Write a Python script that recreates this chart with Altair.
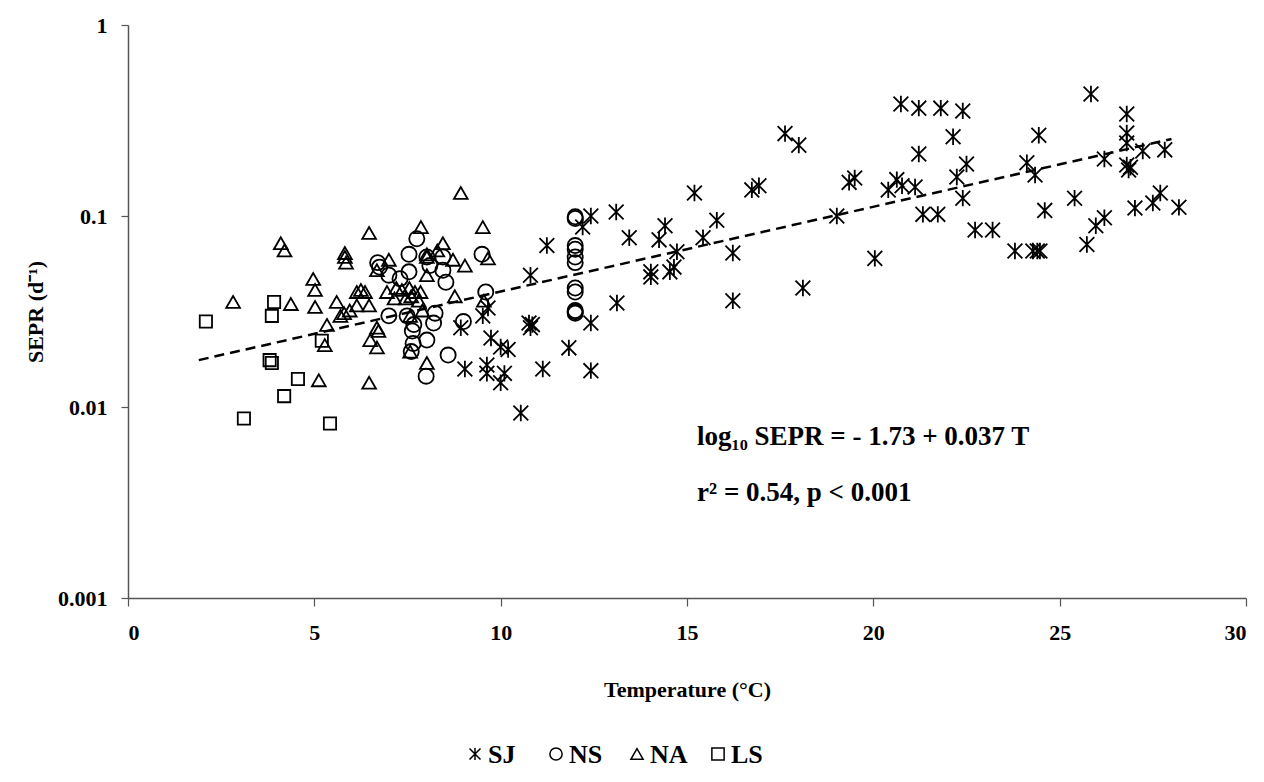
import altair as alt
import pandas as pd

# ---------------- data ----------------
sites = ["SJ", "NS", "NA", "LS"]

sj_t = [12.42, 12.2, 13.1, 13.45, 11.24, 10.8, 9.66, 9.52, 8.93, 10.76, 10.8, 10.85, 12.42,
        9.74, 10.0, 10.2, 11.83, 9.04, 9.63, 9.63, 10.1, 10.0, 11.13, 12.42, 10.54,
        18.0, 14.41, 14.25, 15.2, 15.8, 15.43, 14.73, 14.03, 14.03, 14.54, 14.65, 16.23,
        13.12, 16.23, 18.11, 16.74, 16.93, 19.02, 19.35, 19.5, 20.04, 20.4, 20.63, 17.63,
        25.84, 20.74, 21.22, 21.81, 22.4, 26.8, 22.14, 24.44, 26.8, 21.22, 26.8, 27.23,
        27.82, 26.2, 22.5, 24.12, 26.8, 26.9, 26.85, 24.34, 22.24, 20.77, 21.12, 22.4,
        21.33, 21.73, 22.73, 23.2, 23.8, 24.28, 24.4, 24.47, 24.6, 25.4, 25.73, 25.97,
        26.2, 27.02, 27.5, 27.7, 28.2]
sj_v = [0.1, 0.0875, 0.105, 0.077, 0.070, 0.049, 0.033, 0.030, 0.026, 0.0275, 0.026, 0.027, 0.0275,
        0.023, 0.0206, 0.020, 0.0204, 0.0158, 0.0166, 0.015, 0.015, 0.0134, 0.0158, 0.0155, 0.0093,
        0.235, 0.089, 0.075, 0.132, 0.095, 0.077, 0.065, 0.051, 0.048, 0.051, 0.054, 0.064,
        0.035, 0.036, 0.042, 0.137, 0.144, 0.1, 0.15, 0.158, 0.06, 0.137, 0.155, 0.27,
        0.435, 0.386, 0.367, 0.367, 0.355, 0.342, 0.26, 0.265, 0.272, 0.211, 0.241, 0.219,
        0.222, 0.199, 0.187, 0.19, 0.185, 0.18, 0.174, 0.164, 0.16, 0.144, 0.142, 0.124,
        0.102, 0.102, 0.0845, 0.0845, 0.0656, 0.0656, 0.0656, 0.0656, 0.107, 0.124, 0.071, 0.089,
        0.098, 0.11, 0.117, 0.132, 0.111]

ns_t = [7.75, 7.54, 6.7, 7.0, 7.54, 8.02, 8.45, 8.45, 8.53, 9.5, 9.6, 7.0, 7.49, 8.24, 8.2,
        7.67, 7.63, 8.02, 7.65, 7.6, 9.0, 8.59, 8.0, 6.75, 7.3, 8.1,
        12.0, 12.0, 12.0, 12.0, 12.0, 12.0, 12.0, 12.0, 12.0, 12.0, 12.0]
ns_v = [0.076, 0.063, 0.057, 0.049, 0.051, 0.061, 0.061, 0.052, 0.045, 0.063, 0.040, 0.030, 0.030, 0.031, 0.0275,
        0.027, 0.025, 0.0224, 0.0215, 0.0195, 0.028, 0.0187, 0.0145, 0.054, 0.047, 0.055,
        0.099, 0.097, 0.070, 0.067, 0.061, 0.057, 0.042, 0.040, 0.032, 0.031, 0.0315]

na_t = [2.82, 4.1, 4.2, 4.37, 4.97, 5.02, 5.02, 5.6, 5.34, 5.28, 5.12, 6.47, 5.82, 5.82, 5.85,
        5.7, 5.8, 5.95, 6.14, 6.25, 6.36, 6.14, 6.47, 6.47, 6.68, 6.72, 6.5, 6.68,
        8.93, 7.86, 9.52, 8.45, 8.02, 8.02, 8.72, 9.04, 9.66, 6.68, 7.0, 8.3, 8.02, 8.77,
        9.55, 7.9, 7.57, 8.02,
        6.95, 7.2, 7.35, 7.55, 7.7, 7.85, 7.15, 7.45, 7.6, 7.8, 7.57]
na_v = [0.0355, 0.072, 0.066, 0.0346, 0.0468, 0.041, 0.0334, 0.0355, 0.0269, 0.0211, 0.0138, 0.0815, 0.064, 0.061, 0.057,
        0.030, 0.031, 0.032, 0.040, 0.041, 0.040, 0.034, 0.034, 0.0134, 0.026, 0.025, 0.0224, 0.0205,
        0.132, 0.0875, 0.0875, 0.072, 0.063, 0.061, 0.059, 0.055, 0.060, 0.052, 0.059, 0.066, 0.049, 0.038,
        0.036, 0.032, 0.0195, 0.017,
        0.040, 0.042, 0.041, 0.042, 0.040, 0.040, 0.037, 0.037, 0.038, 0.036, 0.030]

ls_t = [2.09, 3.92, 3.86, 5.2, 3.8, 3.86, 4.56, 4.19, 3.11, 5.42]
ls_v = [0.028, 0.0355, 0.030, 0.0222, 0.0176, 0.017, 0.014, 0.0114, 0.0087, 0.0082]

# fitted line as drawn (end points)
fit_t = [1.9, 28.0]
fit_v = [0.0176, 0.253]

# annotation
ann_t = [15.27, 15.27]
ann_v = [0.0063, 0.00322]
ann_text = ["log\u2081\u2080 SEPR = - 1.73 + 0.037 T", "r\u00b2 = 0.54, p < 0.001"]

x_ticks = [0, 5, 10, 15, 20, 25, 30]
y_ticks = [0.001, 0.01, 0.1, 1]

# ---------------- build frames ----------------
rows = []
for name, ts, vs in [("SJ", sj_t, sj_v), ("NS", ns_t, ns_v), ("NA", na_t, na_v), ("LS", ls_t, ls_v)]:
    for t, v in zip(ts, vs):
        rows.append({"T": t, "SEPR": v, "Site": name, "Grp": name})
df = pd.DataFrame(rows)
df_fit = pd.DataFrame({"T": fit_t, "SEPR": fit_v})
df_ann = pd.DataFrame({"T": ann_t, "SEPR": ann_v, "label": ann_text})
df_leg = pd.DataFrame({"Site": sites})

FONT = "Liberation Serif"
star = "M0,-1L0,1M-0.9,-0.9L0.9,0.9M-0.9,0.9L0.9,-0.9"
shape_scale = alt.Scale(domain=sites, range=[star, "circle", "triangle-up", "square"])

xenc = alt.X("T:Q", scale=alt.Scale(domain=[0, 30], nice=False),
             axis=alt.Axis(values=x_ticks, title="Temperature (\u00b0C)", grid=False,
                           tickSize=8, labelPadding=16, titlePadding=36, format="d"))
yenc = alt.Y("SEPR:Q", scale=alt.Scale(type="log", domain=[0.001, 1], nice=False),
             axis=alt.Axis(values=y_ticks, title="SEPR (d\u207b\u00b9)", grid=False,
                           tickSize=7, labelPadding=14, titlePadding=10, format="~g"))

points = alt.Chart(df).mark_point(filled=False, strokeWidth=1.8, color="black", opacity=1).encode(
    x=xenc,
    y=yenc,
    shape=alt.Shape("Site:N", scale=shape_scale, legend=None),
    size=alt.Size("Grp:N", scale=alt.Scale(domain=sites, range=[270, 150, 170, 210]), legend=None),
)

fit = alt.Chart(df_fit).mark_line(color="black", strokeWidth=2.5, strokeDash=[10, 6]).encode(
    x="T:Q", y="SEPR:Q")

ann = alt.Chart(df_ann).mark_text(align="left", baseline="alphabetic", font=FONT, fontWeight="bold",
                                  fontSize=27, color="black").encode(
    x="T:Q", y="SEPR:Q", text="label:N")

main = alt.layer(fit, points, ann)

# legend row below the axis title
leg_x = alt.X("Site:N", scale=alt.Scale(type="point", domain=sites, range=[347, 590], padding=0), axis=None)
leg_pts = alt.Chart(df_leg).mark_point(filled=False, color="black", strokeWidth=1.5, size=150, opacity=1).encode(
    x=leg_x, y=alt.value(729),
    shape=alt.Shape("Site:N", scale=shape_scale, legend=None))
leg_txt = alt.Chart(df_leg).mark_text(align="left", baseline="middle", dx=13, font=FONT, fontWeight="bold",
                                      fontSize=26, color="black").encode(
    x=leg_x, y=alt.value(730), text="Site:N")

chart = alt.layer(main, leg_pts, leg_txt).resolve_scale(x="independent").properties(
    width=1118, height=573, autosize="none", background="white",
    padding={"left": 128, "top": 25, "right": 18, "bottom": 184},
).configure_view(stroke=None).configure_axis(
    labelFont=FONT, labelFontWeight="bold", labelFontSize=22, labelColor="black",
    titleFont=FONT, titleFontWeight="bold", titleFontSize=22, titleColor="black",
    domainColor="#555555", tickColor="#555555", domainWidth=1.5, tickWidth=1.2,
)

chart.save("out.html", embed_options={"renderer": "svg", "actions": False})
